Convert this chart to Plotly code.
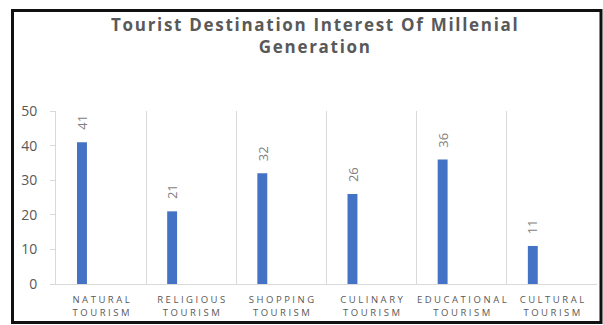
import plotly.graph_objects as go

categories = ["NATURAL TOURISM", "RELIGIOUS TOURISM", "SHOPPING TOURISM",
              "CULINARY TOURISM", "EDUCATIONAL TOURISM", "CULTURAL TOURISM"]
values = [41, 21, 32, 26, 36, 11]
y_ticks = [0, 10, 20, 30, 40, 50]
title_lines = ["Tourist Destination Interest Of Millenial", "Generation"]

THIN = "\u2009"
HAIR = "\u200a"


def spaced(word, sep):
    return sep.join(list(word))


tick_text = ["<br>".join(spaced(w, THIN + HAIR) for w in c.split(" ")) for c in categories]
title_text = "<br>".join(spaced(l, HAIR) for l in title_lines)

W, H = 603, 325
ml, mr, mt, mb = 56, 6, 111, 41
pw, ph = W - ml - mr, H - mt - mb


def px_x(p):
    return (p - ml) / pw


def px_y(p):
    return (H - mb - p) / ph


fig = go.Figure()
fig.add_trace(go.Bar(
    x=categories, y=values,
    marker=dict(color="#4472C4", line=dict(width=0)),
    width=0.11, offset=-0.267,
    showlegend=False,
))

for c, v in zip(categories, values):
    fig.add_annotation(
        x=c, y=v, xref="x", yref="y",
        text=str(v), textangle=-90, showarrow=False,
        xanchor="center", yanchor="bottom",
        xshift=-19, yshift=10,
        font=dict(family="Open Sans", size=13, color="#7f7f7f"),
    )

fig.add_annotation(
    x=px_x(314), y=px_y(11), xref="paper", yref="paper",
    xanchor="center", yanchor="top", showarrow=False,
    text=title_text, align="center",
    font=dict(family="Open Sans", size=17, color="#595959", weight="bold"),
)

fig.add_shape(type="rect", xref="paper", yref="paper",
              x0=px_x(12.5), x1=px_x(601), y0=px_y(10.5), y1=px_y(322.5),
              line=dict(color="#111111", width=3), fillcolor="rgba(0,0,0,0)")

fig.update_layout(
    width=W, height=H,
    margin=dict(l=ml, r=mr, t=mt, b=mb, autoexpand=False),
    paper_bgcolor="white", plot_bgcolor="white",
    xaxis=dict(
        type="category", tickson="boundaries",
        showgrid=True, gridcolor="#d9d9d9", gridwidth=1,
        showline=True, linecolor="#d9d9d9", linewidth=1,
        ticks="", tickvals=categories, ticktext=tick_text,
        tickangle=0, automargin=False,
        tickfont=dict(family="Open Sans", size=9.5, color="#595959"),
        ticklabelstandoff=7,
        zeroline=False,
    ),
    yaxis=dict(
        range=[0, 50], tickvals=y_ticks, ticktext=[str(t) for t in y_ticks],
        showgrid=False, zeroline=False, automargin=False,
        showline=True, linecolor="#d9d9d9", linewidth=1,
        ticks="outside", ticklen=5, tickcolor="#d9d9d9",
        tickfont=dict(family="Open Sans", size=14, color="#595959"),
        ticklabelstandoff=10,
    ),
)

fig.write_html("out.html")
